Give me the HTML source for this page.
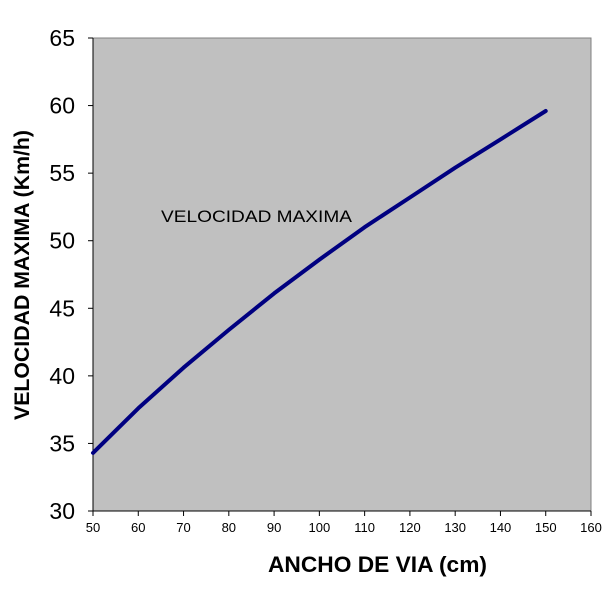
<!DOCTYPE html>
<html><head><meta charset="utf-8"><style>
body{margin:0;background:#fff;}
svg{display:block;font-family:"Liberation Sans",Arial,sans-serif;}
</style></head><body>
<svg id="chart" width="610" height="608">
<rect x="93" y="38" width="498" height="473" fill="#c0c0c0" stroke="#808080" stroke-width="1"/>
<g id="axes"></g>
<path id="line" fill="none" stroke="#000080" stroke-width="4" stroke-linecap="round" stroke-linejoin="round"/>
<text x="161" y="222" font-size="17" textLength="191" lengthAdjust="spacingAndGlyphs" fill="#000">VELOCIDAD MAXIMA</text>
<text transform="translate(29,275) rotate(-90)" text-anchor="middle" font-size="21" font-weight="bold" textLength="290" lengthAdjust="spacingAndGlyphs">VELOCIDAD MAXIMA (Km/h)</text>
<text x="268" y="572" font-size="22" font-weight="bold" textLength="219" lengthAdjust="spacingAndGlyphs">ANCHO DE VIA (cm)</text>
</svg>
<script>
const xValues=[50,60,70,80,90,100,110,120,130,140,150];
const yValues=[34.3,37.6,40.6,43.4,46.1,48.6,51.0,53.2,55.4,57.5,59.6];
const xTicks=[50,60,70,80,90,100,110,120,130,140,150,160];
const yTicks=[30,35,40,45,50,55,60,65];
const L=93,R=591,T=38,B=511;
const sx=v=>L+(v-50)/(160-50)*(R-L);
const sy=v=>B-(v-30)/(65-30)*(B-T);
const NS="http://www.w3.org/2000/svg";
const g=document.getElementById('axes');
function mk(t,a){const e=document.createElementNS(NS,t);for(const k in a)e.setAttribute(k,a[k]);return e;}
let ax=mk('line',{x1:L,y1:T,x2:L,y2:B,stroke:'#000'});


g.appendChild(ax);
ax=mk('line',{x1:L,y1:B,x2:R,y2:B,stroke:'#000'});


g.appendChild(ax);
yTicks.forEach(v=>{
 const y=sy(v);
 g.appendChild(mk('line',{x1:L-5,y1:y,x2:L,y2:y,stroke:'#000'}));
 const t=mk('text',{x:75,y:y+8,'text-anchor':'end','font-size':'23'});
 t.textContent=v;
 
 
 g.appendChild(t);
});
xTicks.forEach(v=>{
 const x=sx(v);
 g.appendChild(mk('line',{x1:x,y1:B,x2:x,y2:B+5,stroke:'#000'}));
 const t=mk('text',{x:x,y:532,'text-anchor':'middle','font-size':'13'});
 t.textContent=v;
 
 
 g.appendChild(t);
});
document.getElementById('line').setAttribute('d',xValues.map((v,i)=>(i?'L':'M')+sx(v).toFixed(1)+','+sy(yValues[i]).toFixed(1)).join(''));
</script>
</body></html>
